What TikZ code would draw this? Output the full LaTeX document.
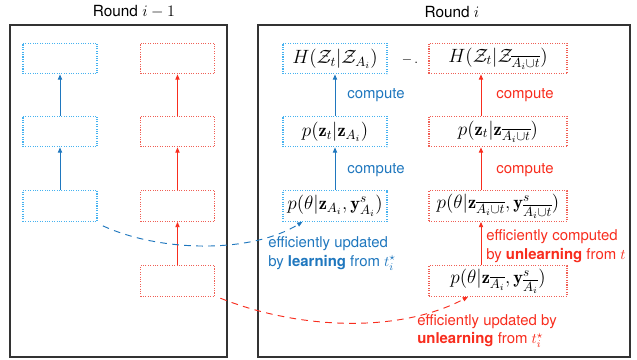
\documentclass[tikz,border=0pt]{standalone}
\usepackage{amsmath}
\usepackage{fontspec}
\setsansfont{TeX Gyre Heros}
\usetikzlibrary{arrows.meta}

\definecolor{bluetxt}{RGB}{31,119,190}
\definecolor{bluebox}{RGB}{70,178,240}
\definecolor{redtxt}{RGB}{248,45,30}
\definecolor{redbox}{RGB}{240,95,85}

\tikzset{
  frame/.style={draw=black!80,line width=0.8pt},
  title/.style={font=\sffamily\fontsize{11.5}{13}\selectfont},
  box/.style={densely dotted,line width=0.8pt,minimum height=23pt,inner sep=0pt,font=\fontsize{13.8}{15}\selectfont},
  bluebx/.style={box,draw=bluebox,minimum width=55.5pt},
  redbx/.style={box,draw=redbox,minimum width=55.5pt},
  lbl/.style={font=\sffamily\fontsize{11.2}{14}\selectfont,inner sep=0pt,align=left},
  bluearr/.style={draw=bluetxt,line width=0.7pt,-{Triangle[length=4pt,width=3.2pt]}},
  redarr/.style={draw=redtxt,line width=0.7pt,-{Triangle[length=4pt,width=3.2pt]}},
  bluedash/.style={bluearr,dash pattern=on 5pt off 4pt},
  reddash/.style={redarr,dash pattern=on 5pt off 4pt}
}

\begin{document}
\begin{tikzpicture}[x=0.75pt,y=-0.75pt]
  \useasboundingbox (0,0) rectangle (637,360);

  % the two rounds
  \draw [frame] (10,25) rectangle (227,357);
  \draw [frame] (258,25) rectangle (630,357);
  \node [title] (roundold) at (134,12) {Round $i-1$};
  \node [title] (roundnew) at (452,12) {Round $i$};

  % round i-1
  \node [bluebx] (lb1) at (60,58.5) {};
  \node [bluebx] (lb2) at (60,131.5) {};
  \node [bluebx] (lb3) at (60,206) {};
  \node [redbx] (lr1) at (177.5,58.5) {};
  \node [redbx] (lr2) at (177.5,131.5) {};
  \node [redbx] (lr3) at (177.5,206) {};
  \node [redbx] (lr4) at (177.5,281) {};

  \draw [bluearr] (lb3) -- (lb2);
  \draw [bluearr] (lb2) -- (lb1);
  \draw [redarr] (lr4) -- (lr3);
  \draw [redarr] (lr3) -- (lr2);
  \draw [redarr] (lr2) -- (lr1);

  % round i
  \node [bluebx,minimum width=78pt] (hA) at (335,58.5) {$H(\mathcal{Z}_t|\mathcal{Z}_{A_i})$};
  \node [bluebx,minimum width=78pt] (pzA) at (335,131.5) {$p(\mathbf{z}_t|\mathbf{z}_{A_i})$};
  \node [bluebx,minimum width=78pt] (pthA) at (335,206) {$p(\theta|\mathbf{z}_{A_i},\mathbf{y}^s_{A_i})$};
  \node (mn) at (410,60) {$-$\,.};
  \node [redbx,minimum width=103.5pt] (hB) at (498,58.5) {$H(\mathcal{Z}_t|\mathcal{Z}_{\overline{A_i\cup t}})$};
  \node [redbx,minimum width=103.5pt] (pzB) at (498,131.5) {$p(\mathbf{z}_t|\mathbf{z}_{\overline{A_i\cup t}})$};
  \node [redbx,minimum width=103.5pt] (pthB) at (498,206) {$p(\theta|\mathbf{z}_{\overline{A_i\cup t}},\mathbf{y}^s_{\overline{A_i\cup t}})$};
  \node [redbx,minimum width=103.5pt] (pthC) at (498,281) {$p(\theta|\mathbf{z}_{\overline{A_i}},\mathbf{y}^s_{\overline{A_i}})$};

  \draw [bluearr] (pthA) -- (pzA);
  \draw [bluearr] (pzA) -- (hA);
  \draw [redarr] ([xshift=-12.75pt]pthC.north) -- ([xshift=-12.75pt]pthB.south);
  \draw [redarr] ([xshift=-12.75pt]pthB.north) -- ([xshift=-12.75pt]pzB.south);
  \draw [redarr] ([xshift=-12.75pt]pzB.north) -- ([xshift=-12.75pt]hB.south);

  \node [lbl,text=bluetxt] (cA1) at (376,95) {compute};
  \node [lbl,text=bluetxt] (cA2) at (376,170) {compute};
  \node [lbl,text=redtxt] (cB1) at (525,95) {compute};
  \node [lbl,text=redtxt] (cB2) at (525,170) {compute};

  % carried over from round i-1
  \draw [bluedash] ([shift={(4pt,-3pt)}]lb3.south east) .. controls (160,252) and (250,254) .. ([xshift=15pt]pthA.south west);
  \draw [reddash] ([shift={(4pt,-1pt)}]lr4.south east) .. controls (300,330) and (400,333) .. ([xshift=-22.5pt]pthC.south);

  \node [lbl,text=bluetxt,anchor=west] (updA) at (268,253.5) {efficiently updated\\by \textbf{learning} from $t_i^\star$};
  \node [lbl,text=redtxt,anchor=west] (updB) at (486,246) {efficiently computed\\by \textbf{unlearning} from $t$};
  \node [lbl,text=redtxt,anchor=west] (updC) at (417,331) {efficiently updated by\\\textbf{unlearning} from $t_i^\star$};
\end{tikzpicture}
\end{document}
